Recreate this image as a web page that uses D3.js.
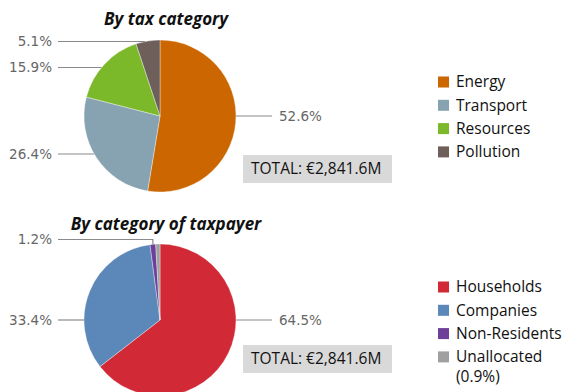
<!DOCTYPE html>
<html>
<head>
<meta charset="utf-8">
<script src="https://cdn.jsdelivr.net/npm/d3@7"></script>
<style>
  body { margin: 0; background: #fff; }
  text { font-family: "Open Sans", sans-serif; }
  text.pct { font-family: "DejaVu Sans", sans-serif; }
</style>
</head>
<body>
<div id="chart"></div>
<script>
// data
var taxCategories = ['Energy', 'Transport', 'Resources', 'Pollution'];
var taxShares = [52.6, 26.4, 15.9, 5.1];
var taxColors = ['#cc6600', '#87a2b0', '#7cb92a', '#6e5f5a'];

var payerCategories = ['Households', 'Companies', 'Non-Residents', 'Unallocated'];
var payerShares = [64.5, 33.4, 1.2, 0.9];
var payerColors = ['#d12a36', '#5b87b9', '#6e3f98', '#a0a0a0'];
var payerLegend = ['Households', 'Companies', 'Non-Residents', 'Unallocated\n(0.9%)'];
var payerShowLabel = [true, true, true, false];

var totalLabel = 'TOTAL: €2,841.6M';

//Width and height
var w = 564;
var h = 392;

var svg = d3.select('#chart')
    .append('svg')
    .attr('width', w)
    .attr('height', h);

// label y offsets from pie centre (layout only)
var taxLabelDy = [0, 38, -48.5, -74.5];
var payerLabelDy = [0, 0, -80.5, 0];

function drawPie(opts) {
    var r = 76;
    var g = svg.append('g').attr('transform', 'translate(' + opts.cx + ',' + opts.cy + ')');

    var pie = d3.pie().sort(null).value(d => d);
    var arcs = pie(opts.values);
    var arc = d3.arc().innerRadius(0).outerRadius(r);

    g.selectAll('path.slice')
        .data(arcs)
        .enter()
        .append('path')
        .attr('class', 'slice')
        .attr('d', arc)
        .attr('fill', (d, i) => opts.colors[i])
        .attr('stroke', 'rgba(255,255,255,0.6)')
        .attr('stroke-width', 0.6);

    // leader lines + labels
    arcs.forEach(function(d, i) {
        if (!opts.show[i]) return;
        var mid = (d.startAngle + d.endAngle) / 2;
        var right = Math.sin(mid) > 0;
        var dy = opts.labelDy[i];
        var pts;
        var xEnd = right ? 112 : -102;
        if (Math.abs(dy) < r) {
            var xe = Math.sqrt(r * r - dy * dy) * (right ? 1 : -1);
            pts = [[xEnd, dy], [xe, dy]];
        } else {
            var ax = r * Math.sin(mid), ay = -r * Math.cos(mid);
            pts = [[xEnd, dy], [ax, dy], [ax, ay]];
        }
        g.append('path')
            .attr('d', d3.line()(pts))
            .attr('fill', 'none')
            .attr('stroke', '#8a8a8a')
            .attr('stroke-width', 1.2);
        g.append('text')
            .attr('class', 'pct')
            .attr('x', right ? xEnd + 7 : xEnd - 6)
            .attr('y', dy)
            .attr('dy', '0.35em')
            .attr('text-anchor', right ? 'start' : 'end')
            .attr('font-size', 13.5)
            .attr('fill', '#666')
            .text(opts.values[i].toFixed(1) + '%');
    });

    // title
    svg.append('text')
        .attr('x', opts.cx + 6)
        .attr('y', opts.titleY)
        .attr('text-anchor', 'middle')
        .attr('font-size', 17)
        .attr('font-weight', 'bold')
        .attr('font-style', 'italic')
        .attr('fill', '#111')
        .text(opts.title);

    // total box
    var box = svg.append('g').attr('transform', 'translate(243,' + opts.boxY + ')');
    box.append('rect')
        .attr('width', 149)
        .attr('height', 28)
        .attr('fill', '#d9d9d9');
    box.append('text')
        .attr('x', 8)
        .attr('y', 14)
        .attr('dy', '0.35em')
        .attr('font-size', 15.5)
        .attr('fill', '#111')
        .text(totalLabel);

    // legend
    var leg = svg.append('g').attr('transform', 'translate(438,' + opts.legendY + ')');
    opts.legend.forEach(function(name, i) {
        var row = leg.append('g').attr('transform', 'translate(0,' + (i * 23.3) + ')');
        row.append('rect')
            .attr('x', 0)
            .attr('y', -5.5)
            .attr('width', 11)
            .attr('height', 11)
            .attr('fill', opts.colors[i]);
        var t = row.append('text')
            .attr('x', 18)
            .attr('y', 0)
            .attr('font-size', 15.5)
            .attr('fill', '#111');
        name.split('\n').forEach(function(line, k) {
            t.append('tspan')
                .attr('x', 18)
                .attr('dy', k === 0 ? '0.35em' : '1.3em')
                .text(line);
        });
    });
}

drawPie({
    cx: 160, cy: 116,
    values: taxShares, colors: taxColors,
    show: [true, true, true, true],
    labelDy: taxLabelDy,
    title: 'By tax category', titleY: 25,
    boxY: 155,
    legend: taxCategories, legendY: 82
});

drawPie({
    cx: 160, cy: 320,
    values: payerShares, colors: payerColors,
    show: payerShowLabel,
    labelDy: payerLabelDy,
    title: 'By category of taxpayer', titleY: 230,
    boxY: 345,
    legend: payerLegend, legendY: 287
});
</script>
</body>
</html>
